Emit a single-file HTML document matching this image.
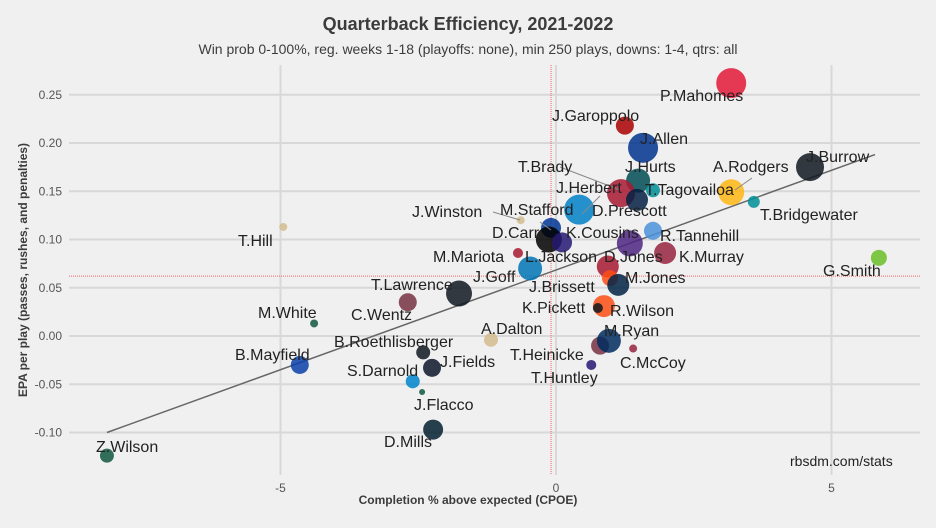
<!DOCTYPE html>
<html><head><meta charset="utf-8">
<style>
html,body{margin:0;padding:0;background:#f0f0f0;}
svg{display:block;font-family:"Liberation Sans",sans-serif;}
</style></head>
<body>
<svg id="chart" width="936" height="528" viewBox="0 0 936 528">
<rect x="0" y="0" width="936" height="528" fill="#f0f0f0"/>
<text x="468" y="30" text-anchor="middle" font-size="18" font-weight="bold" fill="#3c3c3c">Quarterback Efficiency, 2021-2022</text>
<text x="468" y="54" text-anchor="middle" font-size="14" fill="#3c3c3c">Win prob 0-100%, reg. weeks 1-18 (playoffs: none), min 250 plays, downs: 1-4, qtrs: all</text>
<g id="grid"></g>
<g id="ticks"></g>
<g id="means"></g>
<g id="fit"></g>
<g id="points"></g>
<g id="labels"></g>
<text x="468" y="504" text-anchor="middle" font-size="12" font-weight="bold" fill="#3c3c3c">Completion % above expected (CPOE)</text>
<text transform="translate(27,270) rotate(-90)" text-anchor="middle" font-size="12" font-weight="bold" fill="#3c3c3c">EPA per play (passes, rushes, and penalties)</text>
<text x="790" y="466" font-size="14" fill="#222">rbsdm.com/stats</text>
</svg>
<script>
const xTicks = [-5, 0, 5];
const yTicks = [0.25, 0.20, 0.15, 0.10, 0.05, 0.00, -0.05, -0.10];
const yTickLabels = ["0.25","0.20","0.15","0.10","0.05","0.00","-0.05","-0.10"];
const players = ["P.Mahomes","J.Garoppolo","J.Allen","J.Burrow","J.Hurts","T.Brady","J.Herbert","T.Tagovailoa","D.Prescott","A.Rodgers","T.Bridgewater","J.Winston","M.Stafford","D.Carr","L.Jackson","K.Cousins","R.Tannehill","K.Murray","M.Mariota","J.Goff","D.Jones","J.Brissett","M.Jones","R.Wilson","K.Pickett","T.Lawrence","C.Wentz","A.Dalton","B.Roethlisberger","J.Fields","S.Darnold","J.Flacco","D.Mills","T.Heinicke","M.Ryan","C.McCoy","T.Huntley","B.Mayfield","M.White","T.Hill","G.Smith","Z.Wilson"];
const cpoe = [3.18,1.25,1.58,4.61,1.49,1.18,0.42,1.76,1.47,3.18,3.59,-0.64,-0.09,-0.13,0.11,1.34,1.76,1.98,-0.69,-0.47,0.94,0.98,1.13,0.87,0.76,-1.76,-2.69,-1.18,-2.41,-2.25,-2.60,-2.43,-2.23,0.80,0.96,1.40,0.64,-4.65,-4.39,-4.95,5.86,-8.15];
const epa = [0.262,0.218,0.195,0.175,0.161,0.148,0.131,0.151,0.141,0.149,0.139,0.120,0.112,0.100,0.097,0.096,0.109,0.086,0.086,0.070,0.072,0.060,0.053,0.031,0.029,0.044,0.035,-0.004,-0.017,-0.033,-0.047,-0.058,-0.097,-0.010,-0.005,-0.013,-0.030,-0.030,0.013,0.113,0.081,-0.124];
const plays = [744,268,744,648,476,648,744,162,400,558,119,53,330,558,330,558,268,400,83,476,400,212,400,400,83,558,268,162,162,268,162,30,330,268,476,53,83,268,53,53,212,162];
const colors = ["#e31837","#aa0000","#00338d","#101820","#004c54","#a71930","#0080c6","#008e97","#041e42","#ffb612","#008e97","#d3bc8d","#003594","#000000","#241773","#4f2683","#4b92db","#97233f","#a71930","#0076b6","#a71930","#fb4f14","#002244","#fb4f14","#101820","#101820","#773141","#d3bc8d","#101820","#0b162a","#0085ca","#125740","#03202f","#773141","#002c5f","#97233f","#241773","#0a3fa8","#125740","#d3bc8d","#69be28","#125740"];
const meanCpoe = -0.09;
const meanEpa = 0.062;
const fitStart = [-8.15, -0.100];
const fitEnd = [5.79, 0.188];

// layout (label pixel anchors)
const labelPos = [[660,101],[552,121],[640,144],[806,162],[625,172],[518,172],[556,193],[645,195],[592,216],[713,172],[760,220],[412,217],[500,215],[492,238],[525,262],[566,238],[660,241],[679,262],[433,262],[473,282],[604,262],[529,292],[625,283],[610,316],[522,313],[371,290],[351,320],[481,334],[334,347],[440,367],[347,376],[414,410],[384,447],[510,360],[604,336],[620,368],[531,383],[235,360],[258,318],[238,246],[823,276],[96,452]];
const leaders = {"T.Brady":[[560,167],[620,190]],"J.Herbert":[[600,196],[582,214]],"A.Rodgers":[[752,178],[735,190]],"J.Winston":[[493,212],[520,220]],"M.Stafford":[[540,222],[551,230]]};

const NS="http://www.w3.org/2000/svg";
const X = v => 556 + v*55.1;
const Y = v => 336 - v*965;
const L=69, R=920, T=65, B=475;
function mk(tag, attrs, parent){const e=document.createElementNS(NS,tag);for(const k in attrs)e.setAttribute(k,attrs[k]);parent.appendChild(e);return e;}
const grid=document.getElementById('grid'), ticks=document.getElementById('ticks');
yTicks.forEach((t,i)=>{
  const g=mk('line',{x1:L,x2:R,y1:Y(t),y2:Y(t),stroke:'#d8d8d8','stroke-width':2},grid);
  
  
  const tx=mk('text',{x:62,y:Y(t)+4,'text-anchor':'end','font-size':12,fill:'#555'},ticks);
  tx.textContent=yTickLabels[i];
  
  
});
xTicks.forEach(t=>{
  const g=mk('line',{x1:X(t),x2:X(t),y1:T,y2:B,stroke:'#d8d8d8','stroke-width':2},grid);
  
  
  const tx=mk('text',{x:X(t),y:492,'text-anchor':'middle','font-size':12,fill:'#555'},ticks);
  tx.textContent=String(t);
  
  
});
const means=document.getElementById('means');
const mv=mk('line',{x1:X(meanCpoe),x2:X(meanCpoe),y1:T,y2:B,stroke:'#ee6666','stroke-width':1,'stroke-dasharray':'1,1'},means);


const mh=mk('line',{x1:L,x2:R,y1:Y(meanEpa),y2:Y(meanEpa),stroke:'#ee6666','stroke-width':1,'stroke-dasharray':'1,1'},means);


const fl=mk('line',{x1:X(fitStart[0]),y1:Y(fitStart[1]),x2:X(fitEnd[0]),y2:Y(fitEnd[1]),stroke:'#666','stroke-width':1.5},document.getElementById('fit'));


const pts=document.getElementById('points'), lab=document.getElementById('labels');
players.forEach((p,i)=>{
  const c=mk('circle',{cx:X(cpoe[i]),cy:Y(epa[i]),r:0.55*Math.sqrt(plays[i]),fill:colors[i],'fill-opacity':0.85},pts);
  
  
});
players.forEach((p,i)=>{
  if(leaders[p]){const s=leaders[p];const ln=mk('line',{x1:s[0][0],y1:s[0][1],x2:s[1][0],y2:s[1][1],stroke:'#888','stroke-width':1},lab);
    
    }
  const t=mk('text',{x:labelPos[i][0],y:labelPos[i][1],'font-size':16,fill:'#222'},lab);
  t.textContent=p;
  
  
});
</script>
</body></html>
